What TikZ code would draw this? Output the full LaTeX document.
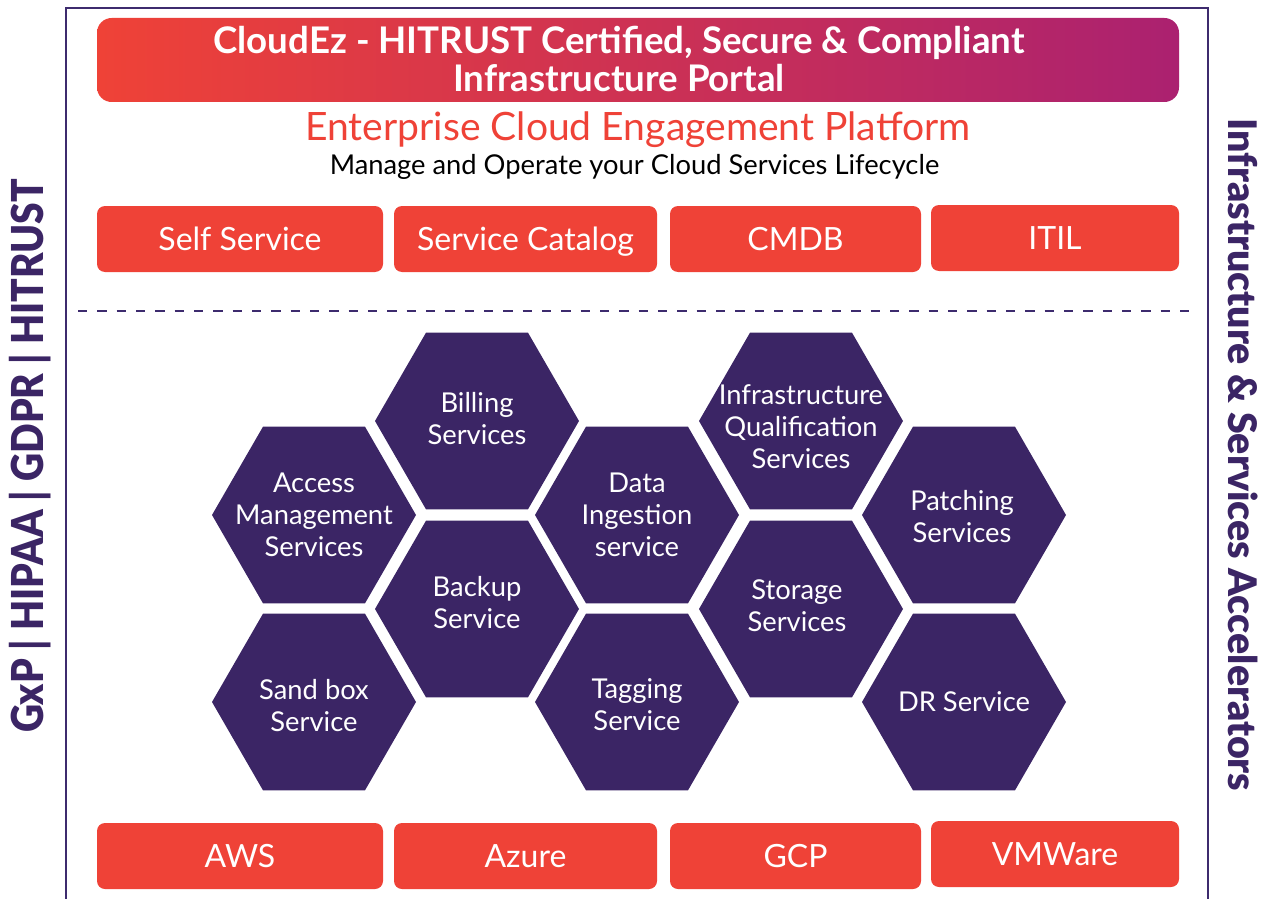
\documentclass[tikz,border=0pt]{standalone}
\usepackage{fontspec}
\setmainfont{Lato}
\IfFontExistsTF{Lato Black}{\newfontfamily\heavyfont{Lato Black}}{\newfontfamily\heavyfont{Lato}[UprightFont=*, UprightFeatures={FakeBold=1.5}]}
\usetikzlibrary{shapes.geometric}

\definecolor{cezred}{RGB}{239,66,55}
\definecolor{cezmagenta}{RGB}{171,33,112}
\definecolor{cezpurple}{RGB}{59,37,101}
\definecolor{cezline}{RGB}{61,43,110}

\tikzset{every picture/.style={line width=0.75pt}}
\tikzset{
  redbox/.style={fill=cezred, rounded corners=6pt, text=white, inner sep=0pt, minimum height=49.5pt, text height=17pt, text depth=0pt, font=\fontsize{24}{28}\selectfont},
  hexcell/.style={regular polygon, regular polygon sides=6, minimum size=153pt, inner sep=0pt, outer sep=0pt, fill=cezpurple},
  hexlabel/.style={text=white, align=center, inner sep=0pt, font=\fontsize{20.5}{24}\selectfont},
  sidelabel/.style={text=cezpurple, inner sep=0pt}
}

\begin{document}
\begin{tikzpicture}[x=0.75pt,y=0.75pt,yscale=-1,xscale=1]
\useasboundingbox (0,0) rectangle (1265,899);

%Shape: Frame
\draw [color=cezline, line width=2pt] (66,905) -- (66,8) -- (1208,8) -- (1208,905) ;
%Shape: Banner
\shade [left color=cezred, right color=cezmagenta, rounded corners=11pt] (97,18) rectangle (1179,102) ;
%Straight Lines
\draw [color=cezline, line width=1.5pt, dash pattern={on 7pt off 7.5pt}] (78,311) -- (1197,311) ;

% Text Node
\draw (619,59) node [text=white, align=center, inner sep=0pt, font=\bfseries\fontsize{27.5}{28.5}\selectfont] (portal) {CloudEz - HITRUST Certified, Secure \& Compliant\\Infrastructure Portal};
% Text Node
\draw (638,130) node [text=cezred, inner sep=0pt, font=\fontsize{29.3}{30}\selectfont] (platform) {Enterprise Cloud Engagement Platform};
% Text Node
\draw (634.5,167) node [inner sep=0pt, font=\fontsize{20.5}{22}\selectfont] (lifecycle) {Manage and Operate your Cloud Services Lifecycle};

%Top boxes
\draw (240,239) node [redbox, minimum width=214.5pt] (self) {Self Service};
\draw (525.5,239) node [redbox, minimum width=197.25pt] (catalog) {Service Catalog};
\draw (795.5,239) node [redbox, minimum width=188.25pt] (cmdb) {CMDB};
\draw (1055,238) node [redbox, minimum width=186pt] (itil) {ITIL};

%Hexagons
\draw (314,515) node [hexcell] (access) {};
\draw (477,421) node [hexcell] (billing) {};
\draw (477,609) node [hexcell] (backup) {};
\draw (314,702) node [hexcell] (sandbox) {};
\draw (637,515) node [hexcell] (ingest) {};
\draw (637,702) node [hexcell] (tagging) {};
\draw (801,421) node [hexcell] (qualify) {};
\draw (801,609) node [hexcell] (storage) {};
\draw (964,515) node [hexcell] (patching) {};
\draw (964,702) node [hexcell] (dr) {};

% Text Node
\node [hexlabel] at (access) {Access\\Management\\Services};
\node [hexlabel] at (477,419) {Billing\\Services};
\node [hexlabel] at (477,603) {Backup\\Service};
\node [hexlabel] at (314,706) {Sand box\\Service};
\node [hexlabel] at (ingest) {Data\\Ingestion\\service};
\node [hexlabel] at (637,705) {Tagging\\Service};
\node [hexlabel] at (801,427) {Infrastructure\\Qualification\\Services};
\node [hexlabel] at (797,606) {Storage\\Services};
\node [hexlabel] at (962,517) {Patching\\Services};
\node [hexlabel] at (dr) {DR Service};

%Bottom boxes
\draw (240,856) node [redbox, minimum width=214.5pt] (aws) {AWS};
\draw (525.5,856) node [redbox, minimum width=197.25pt] (azure) {Azure};
\draw (795.5,856) node [redbox, minimum width=188.25pt] (gcp) {GCP};
\draw (1055,854) node [redbox, minimum width=186pt] (vmware) {VMWare};

% Text Node
\draw (30,456) node [sidelabel, rotate=90, font=\heavyfont\fontsize{33}{36}\selectfont] (compliance) {\scalebox{0.885}[1]{GxP | HIPAA | GDPR | HITRUST}};
% Text Node
\draw (1243,455) node [sidelabel, rotate=-90, font=\heavyfont\fontsize{29.5}{32}\selectfont] (accel) {Infrastructure \& Services Accelerators};

\end{tikzpicture}
\end{document}
